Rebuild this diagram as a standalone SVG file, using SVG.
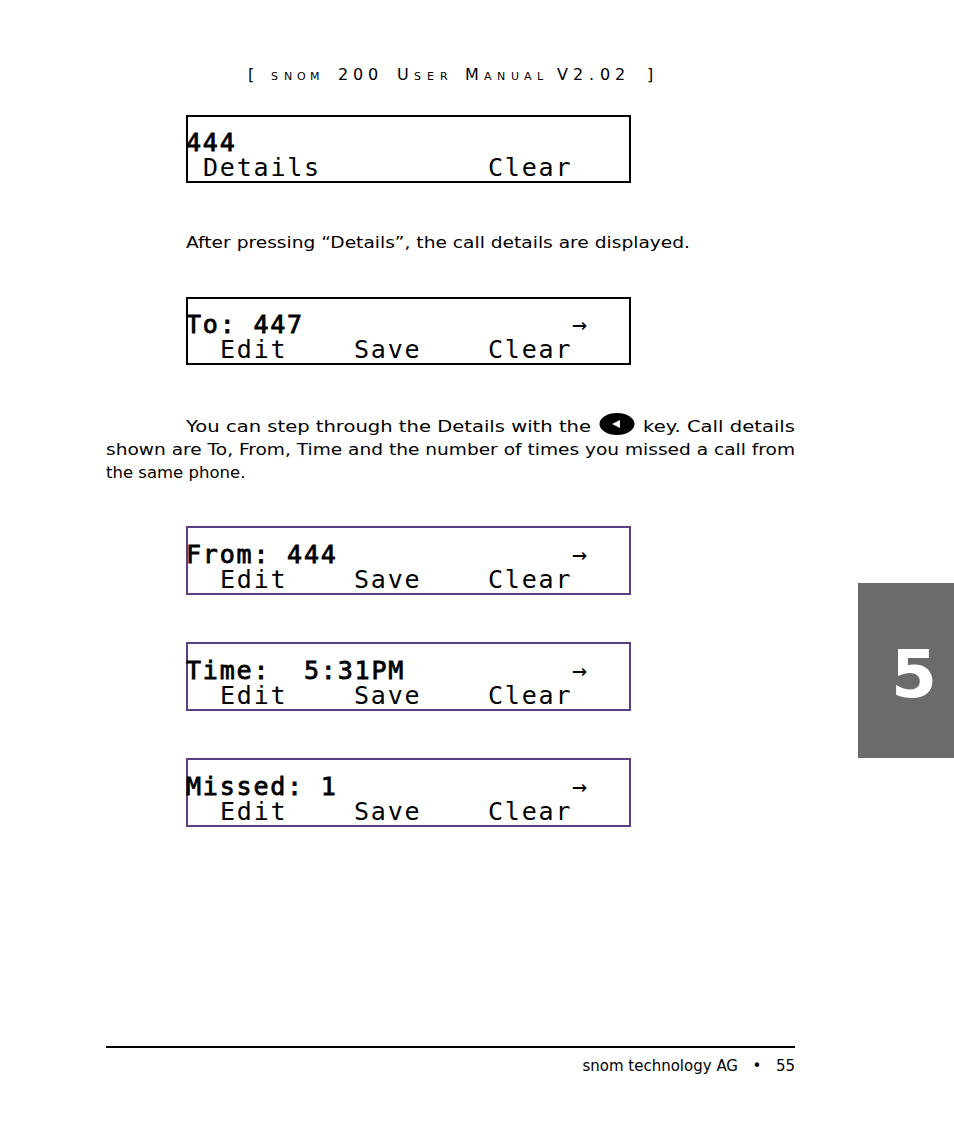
<svg xmlns="http://www.w3.org/2000/svg" width="954" height="1140" viewBox="0 0 954 1140">
<style>
.hdr{font-family:"DejaVu Sans",Verdana,sans-serif;fill:#000}
.big{font-size:16px}
.sm{font-size:11px}
.body{font-family:"DejaVu Sans",Verdana,sans-serif;font-size:16.5px;fill:#000}
.lcd{fill:#fff;stroke-width:2}
.blk{stroke:#000}
.pur{stroke:#5a3e86}
.l2{font-family:"DejaVu Sans Mono","Liberation Mono",monospace;font-size:25px;letter-spacing:1.8px;fill:#000}
.l1{stroke:#000;stroke-width:0.8px}
.foot{font-family:"DejaVu Sans",Tahoma,sans-serif;font-size:15px;fill:#000}
</style>
<rect width="954" height="1140" fill="#fff"/>
<g id="header">
<text class="hdr big" x="248" y="80">[</text>
<text class="hdr sm" x="271 284 297 310" y="80">SNOM</text>
<text class="hdr big" x="338 353 368" y="80">200</text>
<text class="hdr big" x="397" y="80">U</text>
<text class="hdr sm" x="414 427 440" y="80">SER</text>
<text class="hdr big" x="465" y="80">M</text>
<text class="hdr sm" x="484 497 511 524 537" y="80">ANUAL</text>
<text class="hdr big" x="557 573 589 600 615" y="80">V2.02</text>
<text class="hdr big" x="647" y="80">]</text>
</g>
<g id="lcd1">
<rect class="lcd blk" x="187" y="116" width="443" height="66"/>
<text class="l2 l1" x="186" y="151">444</text>
<text class="l2" x="203" y="176">Details</text>
<text class="l2" x="488" y="176">Clear</text>
</g>
<text class="body" x="186" y="248" textLength="504" lengthAdjust="spacingAndGlyphs">After pressing “Details”, the call details are displayed.</text>
<g id="lcd2">
<rect class="lcd blk" x="187" y="298" width="443" height="66"/>
<text class="l2 l1" x="186" y="333">To: 447</text>
<text class="l2" x="572" y="333">→</text>
<text class="l2" x="220" y="358">Edit</text>
<text class="l2" x="354" y="358">Save</text>
<text class="l2" x="488" y="358">Clear</text>
</g>
<g id="para">
<text class="body" x="186" y="432" textLength="405" lengthAdjust="spacingAndGlyphs">You can step through the Details with the</text>
<ellipse cx="617" cy="424" rx="17.5" ry="11" fill="#000"/>
<polygon points="612,424 620,420 620,428" fill="#fff"/>
<text class="body" x="643" y="432" textLength="152" lengthAdjust="spacingAndGlyphs">key. Call details</text>
<text class="body" x="106" y="455" textLength="689" lengthAdjust="spacingAndGlyphs">shown are To, From, Time and the number of times you missed a call from</text>
<text class="body" x="106" y="478">the same phone.</text>
</g>
<g id="lcd3">
<rect class="lcd pur" x="187" y="527" width="443" height="67"/>
<text class="l2 l1" x="186" y="563">From: 444</text>
<text class="l2" x="572" y="563">→</text>
<text class="l2" x="220" y="588">Edit</text>
<text class="l2" x="354" y="588">Save</text>
<text class="l2" x="488" y="588">Clear</text>
</g>
<g id="lcd4">
<rect class="lcd pur" x="187" y="643" width="443" height="67"/>
<text class="l2 l1" x="186" y="679">Time:</text>
<text class="l2 l1" x="304" y="679">5:31PM</text>
<text class="l2" x="572" y="679">→</text>
<text class="l2" x="220" y="704">Edit</text>
<text class="l2" x="354" y="704">Save</text>
<text class="l2" x="488" y="704">Clear</text>
</g>
<g id="lcd5">
<rect class="lcd pur" x="187" y="759" width="443" height="67"/>
<text class="l2 l1" x="186" y="795">Missed: 1</text>
<text class="l2" x="572" y="795">→</text>
<text class="l2" x="220" y="820">Edit</text>
<text class="l2" x="354" y="820">Save</text>
<text class="l2" x="488" y="820">Clear</text>
</g>
<g id="tab">
<rect x="858" y="583" width="96" height="175" fill="#6b6b6b"/>
<text x="914" y="697" text-anchor="middle" font-family="DejaVu Sans,Verdana,sans-serif" font-weight="bold" font-size="66" fill="#fff">5</text>
</g>
<g id="footer">
<line x1="106" y1="1047" x2="795" y2="1047" stroke="#000" stroke-width="2"/>
<text class="foot" x="738" y="1071" text-anchor="end">snom technology AG</text>
<text class="foot" x="757" y="1071" text-anchor="middle">•</text>
<text class="foot" x="795" y="1071" text-anchor="end">55</text>
</g>
</svg>
